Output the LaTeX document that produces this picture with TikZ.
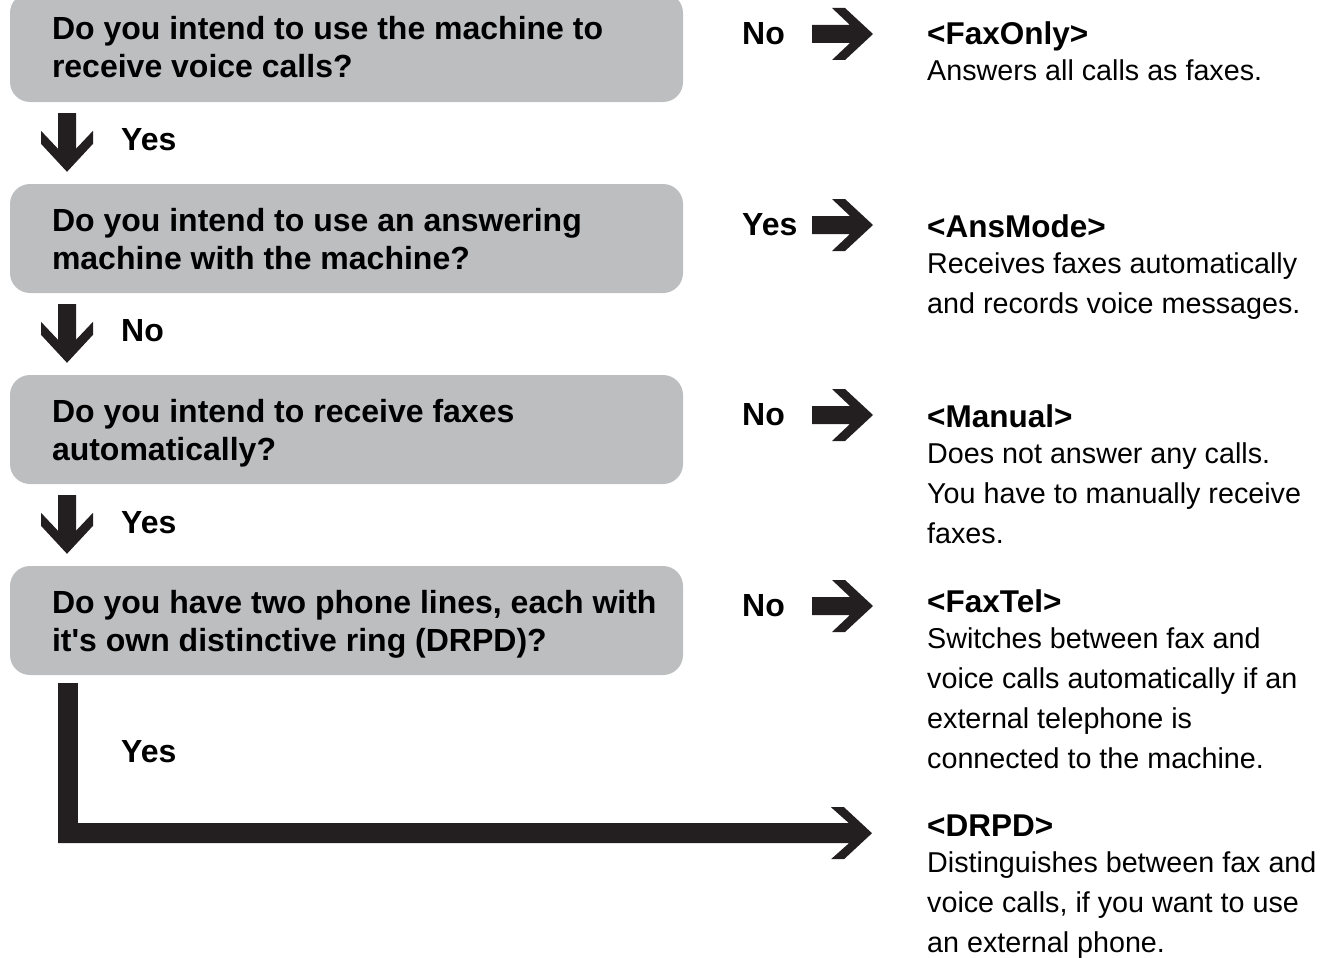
\documentclass[tikz,border=0pt]{standalone}
\usepackage{fontspec}
\setmainfont{Liberation Sans}
\usetikzlibrary{calc,positioning}
\definecolor{BoxGray}{HTML}{BCBEC0}
\definecolor{ArrowInk}{HTML}{231F20}

\begin{document}
\begin{tikzpicture}[x=1pt,y=1pt,
  qbox/.style={fill=BoxGray,rounded corners=20pt,minimum width=673pt,
    minimum height=109pt,inner sep=0pt},
  qtext/.style={anchor=west,align=left,inner sep=0pt,
    font=\fontsize{32}{38}\selectfont\bfseries},
  lbl/.style={anchor=west,inner sep=0pt,font=\fontsize{32}{38}\selectfont\bfseries},
  answer/.style={anchor=north west,align=left,inner sep=0pt,
    font=\fontsize{28.7}{40}\selectfont},
  ink/.style={fill=ArrowInk},
  fat right/.style={to path={let \p1=(\tikztostart),\p2=(\tikztotarget) in
    (\x1,\y1+#1) -- (\x2-23pt,\y1+#1) -- (\x2-41pt,\y1+26pt) -- (\x2-28pt,\y1+26pt)
    -- (\x2,\y1) -- (\x2-28pt,\y1-26pt) -- (\x2-41pt,\y1-26pt) -- (\x2-23pt,\y1-#1)
    -- (\x1,\y1-#1) -- cycle}},
  fat right/.default=9pt,
  fat down/.style={to path={let \p1=(\tikztostart),\p2=(\tikztotarget) in
    (\x1-#1,\y1) -- (\x1-#1,\y2+23pt) -- (\x1-26pt,\y2+41pt) -- (\x1-26pt,\y2+28pt)
    -- (\x1,\y2) -- (\x1+26pt,\y2+28pt) -- (\x1+26pt,\y2+41pt) -- (\x1+#1,\y2+23pt)
    -- (\x1+#1,\y1) -- cycle}},
  fat down/.default=9pt
]
\path[use as bounding box,clip] (0,0) rectangle (1326,-958);

\node[qbox] (q1) at (346.5,-47.5) {};
\node[qbox] (q2) at (346.5,-238.5) {};
\node[qbox] (q3) at (346.5,-429.5) {};
\node[qbox] (q4) at (346.5,-620.5) {};
\node[qtext] (qt1) at ($(q1.west)+(42,-3.9)$)
  {\strut Do you intend to use the machine to\\receive voice calls?\strut};
\node[qtext] (qt2) at ($(q2.west)+(42,-3.9)$)
  {\strut Do you intend to use an answering\\machine with the machine?\strut};
\node[qtext] (qt3) at ($(q3.west)+(42,-3.9)$)
  {\strut Do you intend to receive faxes\\automatically?\strut};
\node[qtext] (qt4) at ($(q4.west)+(42,-3.9)$)
  {\strut Do you have two phone lines, each with\\it\textquotesingle s own distinctive ring (DRPD)?\strut};

\coordinate (dx) at (67,0);
\coordinate (lx) at (68,0);
\coordinate (sx) at (812,0);
\coordinate (tx) at (873,0);

\path[ink] ($(q1.south -| dx)+(0,-11)$) to[fat down] ($(q2.north -| dx)+(0,12)$);
\path[ink] ($(q2.south -| dx)+(0,-11)$) to[fat down] ($(q3.north -| dx)+(0,12)$);
\path[ink] ($(q3.south -| dx)+(0,-11)$) to[fat down] ($(q4.north -| dx)+(0,12)$);
\node[lbl] (y1) at (121,-140) {Yes};
\node[lbl] (n2) at (121,-331) {No};
\node[lbl] (y3) at (121,-523) {Yes};
\node[lbl] (y4) at (121,-752) {Yes};

\node[lbl] (no1) at (742,-34) {No};
\node[lbl] (yes2) at (742,-225) {Yes};
\node[lbl] (no3) at (742,-415) {No};
\node[lbl] (no4) at (742,-606) {No};
\path[ink] (no1.west -| sx) to[fat right] (no1.west -| tx);
\path[ink] (yes2.west -| sx) to[fat right] (yes2.west -| tx);
\path[ink] (no3.west -| sx) to[fat right] (no3.west -| tx);
\path[ink] (no4.west -| sx) to[fat right] (no4.west -| tx);

\path[ink] ($(q4.south -| lx)+(-10,-8)$) rectangle ++(20,-160);
\path[ink] ($(q4.south -| lx)+(-10,-158)$) to[fat right=10pt] ($(q4.south -| tx)+(-1,-158)$);

\node[answer] (faxonly) at (927,-21.7)
  {{\fontsize{31.5}{40}\selectfont\bfseries <FaxOnly>}\\[-4pt]
   Answers all calls as faxes.};
\node[answer] (ansmode) at (927,-214.7)
  {{\fontsize{31.5}{40}\selectfont\bfseries <AnsMode>}\\[-4pt]
   Receives faxes automatically\\and records voice messages.};
\node[answer] (manual) at (927,-404.7)
  {{\fontsize{31.5}{40}\selectfont\bfseries <Manual>}\\[-4pt]
   Does not answer any calls.\\You have to manually receive\\faxes.};
\node[answer] (faxtel) at (927,-589.7)
  {{\fontsize{31.5}{40}\selectfont\bfseries <FaxTel>}\\[-4pt]
   Switches between fax and\\voice calls automatically if an\\external telephone is\\
   connected to the machine.};
\node[answer] (drpd) at (927,-814.7)
  {{\fontsize{31.5}{40}\selectfont\bfseries <DRPD>}\\[-4pt]
   Distinguishes between fax and\\voice calls, if you want to use\\an external phone.};
\end{tikzpicture}
\end{document}
